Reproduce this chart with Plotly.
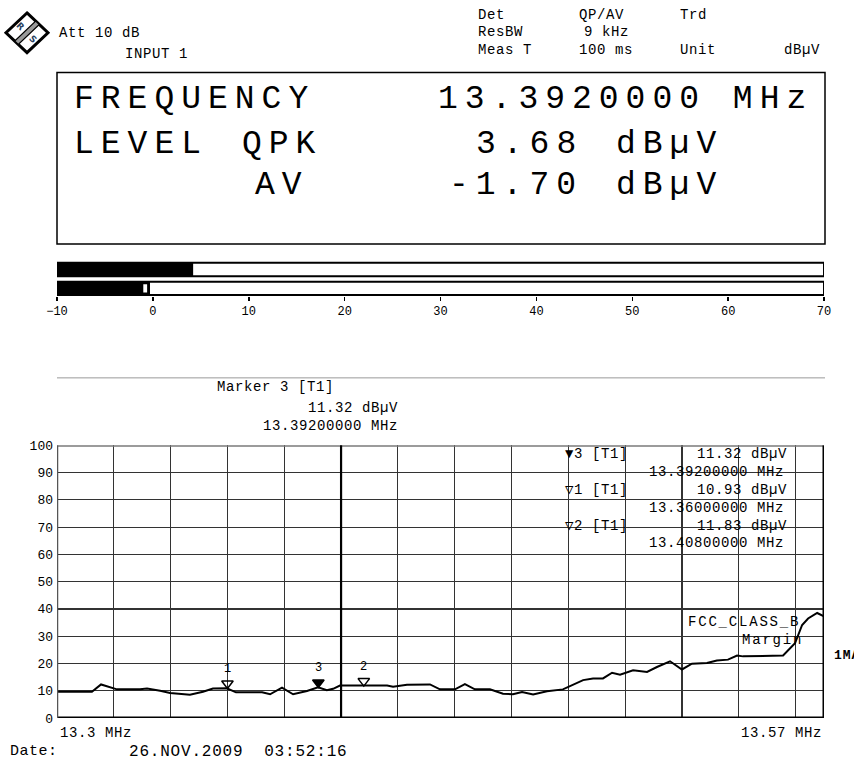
import plotly.graph_objects as go

# ---------------- data ----------------
freq_mhz = [13.3000, 13.3123, 13.3155, 13.3211, 13.3292, 13.3317, 13.3363, 13.3398,
            13.3468, 13.3514, 13.3549, 13.3598, 13.3630, 13.3722, 13.3750, 13.3792,
            13.3831, 13.3880, 13.3919, 13.3950, 13.3972, 13.3996, 13.4162, 13.4183,
            13.4232, 13.4313, 13.4348, 13.4401, 13.4436, 13.4471, 13.4524, 13.4570,
            13.4605, 13.4637, 13.4676, 13.4725, 13.4781, 13.4806, 13.4852, 13.4887,
            13.4922, 13.4954, 13.4982, 13.5028, 13.5077, 13.5112, 13.5158, 13.5200,
            13.5235, 13.5288, 13.5323, 13.5362, 13.5394, 13.5415, 13.5556, 13.5598,
            13.5623, 13.5644, 13.5676, 13.5700]
level_dbuv = [9.6, 9.6, 12.3, 10.5, 10.5, 10.8, 10.0, 9.2,
              8.5, 9.6, 10.8, 10.9, 9.4, 9.4, 8.7, 11.1,
              8.7, 9.9, 11.3, 10.2, 10.7, 11.9, 11.9, 11.5,
              12.2, 12.3, 10.5, 10.5, 12.4, 10.5, 10.5, 8.9,
              8.7, 9.5, 8.6, 9.8, 10.5, 11.7, 13.9, 14.5,
              14.5, 16.6, 15.9, 17.5, 16.9, 18.7, 20.8, 17.8,
              19.9, 20.2, 21.1, 21.4, 22.9, 22.6, 22.9, 27.4,
              34.1, 36.5, 38.5, 37.3]

marker_ids = ["1", "2", "3"]
marker_freq = [13.360, 13.408, 13.392]
marker_level = [10.93, 11.83, 11.32]
marker_filled = [False, False, True]
table_order = [2, 0, 1]          # marker 3 (active) first, then 1, 2

meter_names = ["QPK", "AV"]
meter_values = [4.2, -0.3]       # bar lengths as drawn on the -10..70 scale
meter_readout = [3.68, -1.70]
av_peak_tick = -1.0
meter_ticks = [-10, 0, 10, 20, 30, 40, 50, 60, 70]

y_ticks = [0, 10, 20, 30, 40, 50, 60, 70, 80, 90, 100]
f_start, f_stop = 13.3, 13.57
f_grid_step = 0.02
display_line_f = 13.40

# ---------------- geometry helpers ----------------
W, H = 854, 765
ML, MR, MT, MB = 57, 30, 0, 47
PW, PH = W - ML - MR, H - MT - MB


def X(px):
    return (px - ML) / PW


def Y(py):
    return (H - MB - py) / PH


MONO = "Liberation Mono, Courier New, monospace"


def txt(s, px, py, size=14, anchor="left", bold=False, color="black", angle=0, ls=0.6):
    if ls:
        s = f'<span style="letter-spacing:{ls}px">' + s + "</span>"
    if bold:
        s = "<b>" + s + "</b>"
    return dict(text=s, xref="paper", yref="paper", x=X(px), y=Y(py),
                xanchor=anchor, yanchor="middle", showarrow=False,
                textangle=angle, font=dict(family=MONO, size=size, color=color))


def big(s, px, py, anchor="left"):
    return txt(s, px, py, size=33, anchor=anchor, ls=7)


fig = go.Figure()

# main spectrum trace
fig.add_trace(go.Scatter(x=freq_mhz, y=level_dbuv, mode="lines",
                         line=dict(color="black", width=2), hoverinfo="skip",
                         showlegend=False, xaxis="x", yaxis="y"))

# marker triangles (tip just touching the trace)
fig.add_trace(go.Scatter(
    x=marker_freq, y=[v + 1.7 for v in marker_level], mode="markers",
    marker=dict(symbol=["triangle-down" if f else "triangle-down-open" for f in marker_filled],
                size=10, color="black", line=dict(color="black", width=1.5)),
    hoverinfo="skip", showlegend=False, xaxis="x", yaxis="y"))

# level meter: frames, fills, peak tick
fig.add_trace(go.Bar(y=meter_names, x=[80, 80], base=-10, orientation="h",
                     marker=dict(color="white", line=dict(color="black", width=2)),
                     hoverinfo="skip", showlegend=False, xaxis="x2", yaxis="y2"))
fig.add_trace(go.Bar(y=meter_names, x=[v + 10 for v in meter_values], base=-10,
                     orientation="h", marker=dict(color="black", line=dict(width=0)),
                     hoverinfo="skip", showlegend=False, xaxis="x2", yaxis="y2"))
fig.add_trace(go.Bar(y=["AV"], x=[0.4], base=av_peak_tick, orientation="h",
                     marker=dict(color="white", line=dict(width=0)), width=0.45,
                     hoverinfo="skip", showlegend=False, xaxis="x2", yaxis="y2"))

shapes = []
# plot frame
shapes.append(dict(type="line", xref="x", yref="y", x0=f_start, x1=f_stop, y0=100, y1=100,
                   line=dict(color="#7a7a7a", width=3)))
shapes.append(dict(type="line", xref="x", yref="y", x0=f_start, x1=f_stop, y0=0, y1=0,
                   line=dict(color="black", width=3)))
shapes.append(dict(type="line", xref="x", yref="y", x0=f_start, x1=f_start, y0=0, y1=100,
                   line=dict(color="#555555", width=2.5)))
shapes.append(dict(type="line", xref="x", yref="y", x0=f_stop, x1=f_stop, y0=0, y1=100,
                   line=dict(color="black", width=3)))
shapes.append(dict(type="line", xref="x", yref="y", x0=display_line_f, x1=display_line_f,
                   y0=0, y1=100, line=dict(color="black", width=2.2)))
# readout box and separator
shapes.append(dict(type="rect", xref="paper", yref="paper", x0=X(57), x1=X(825),
                   y0=Y(240), y1=Y(67), line=dict(color="black", width=1.5)))
shapes.append(dict(type="line", xref="paper", yref="paper", x0=X(57), x1=X(825),
                   y0=Y(375), y1=Y(375), line=dict(color="#9a9a9a", width=1)))


# R&S logo
def pth(pts):
    return "M " + " L ".join(f"{X(a):.5f},{Y(b):.5f}" for a, b in pts) + " Z"


shapes.append(dict(type="path", xref="paper", yref="paper",
                   path=pth([(27, 7), (48, 27), (27, 47), (6, 27)]),
                   line=dict(color="black", width=3), fillcolor="white"))
shapes.append(dict(type="path", xref="paper", yref="paper",
                   path=pth([(35.7, 15.3), (39.3, 18.7), (18.3, 38.7), (14.7, 35.3)]),
                   line=dict(color="black", width=1.2), fillcolor="#9a9a9a"))

ann = []
ann.append(dict(text="<b>R</b>", xref="paper", yref="paper", x=X(20), y=Y(20),
                xanchor="center", yanchor="middle",
                showarrow=False, textangle=45, font=dict(family="DejaVu Sans", size=9)))
ann.append(dict(text="<b>S</b>", xref="paper", yref="paper", x=X(33), y=Y(33),
                xanchor="center", yanchor="middle",
                showarrow=False, textangle=45, font=dict(family="DejaVu Sans", size=9)))

# header
ann += [txt("Att 10 dB", 57, 27), txt("INPUT 1", 123, 48),
        txt("Det", 476, 9), txt("QP/AV", 577, 9), txt("Trd", 678, 9),
        txt("ResBW", 476, 26), txt("9 kHz", 582, 26),
        txt("Meas T", 476, 44), txt("100 ms", 577, 44), txt("Unit", 678, 44),
        txt("dBµV", 822, 44, anchor="right")]

# big readout
mk3 = 2
ann += [big("FREQUENCY", 72, 94),
        big(f"{marker_freq[mk3]:.7f} MHz", 815, 94, anchor="right"),
        big("LEVEL", 72, 140), big(meter_names[0], 240, 140),
        big(f"{meter_readout[0]:.2f}", 585, 140, anchor="right"),
        big("dBµV", 614, 140),
        big(meter_names[1], 253, 181),
        big(f"{meter_readout[1]:.2f}", 585, 181, anchor="right"),
        big("dBµV", 614, 181)]

# active marker header
ann += [txt("Marker 3 [T1]", 215, 384),
        txt(f"{marker_level[mk3]:.2f} dBµV", 400, 405, anchor="right"),
        txt(f"{marker_freq[mk3]:.8f} MHz", 400, 424, anchor="right")]

# marker table inside the diagram
row_y = [452, 488, 524]
for r, idx in enumerate(table_order):
    sym = "▼" if marker_filled[idx] else "▽"
    ann.append(txt(f"{sym}{marker_ids[idx]} [T1]", 563, row_y[r]))
    ann.append(txt(f"{marker_level[idx]:.2f} dBµV", 789, row_y[r], anchor="right"))
    ann.append(txt(f"{marker_freq[idx]:.8f} MHz", 786, row_y[r] + 18, anchor="right"))

# marker numbers above triangles
for i in range(len(marker_ids)):
    ann.append(dict(text=marker_ids[i], x=marker_freq[i], y=marker_level[i], xref="x", yref="y",
                    yshift=19, showarrow=False, font=dict(family=MONO, size=12, color="black")))

# limit line label, trace label
ann += [txt("FCC_CLASS_B", 686, 621, size=14, ls=1.8), txt("Margin", 740, 639, size=14, ls=1.8),
        txt("1MA", 832, 655, size=13, bold=True, ls=1)]

# frequency labels & date
ann += [txt(f"{f_start} MHz", 58, 733), txt(f"{f_stop} MHz", 824, 733, anchor="right"),
        txt("Date:", 8, 752, size=15, ls=0.5), txt("26.NOV.2009  03:52:16", 127, 752, size=16, ls=0.8)]

fig.update_layout(
    width=W, height=H, margin=dict(l=ML, r=MR, t=MT, b=MB, pad=0),
    paper_bgcolor="white", plot_bgcolor="white", showlegend=False,
    barmode="overlay", bargap=0.29,
    shapes=shapes, annotations=ann,
    xaxis=dict(domain=[0, 1], range=[f_start, f_stop], tick0=f_start, dtick=f_grid_step,
               showgrid=True, gridcolor="#333333", gridwidth=1.2, showticklabels=False,
               ticks="", zeroline=False, showline=False, anchor="y", fixedrange=True),
    yaxis=dict(domain=[0, Y(443)], range=[0, 100], tickvals=y_ticks,
               showgrid=True, gridcolor="#333333", gridwidth=1.2, zeroline=False,
               showline=False, ticks="", ticklabelstandoff=3,
               tickfont=dict(family=MONO, size=13, color="black"), anchor="x"),
    xaxis2=dict(domain=[0, 1], range=[-10, 70], tickvals=meter_ticks, ticks="outside",
                ticklen=4, tickwidth=1.5, tickcolor="black", showgrid=False,
                zeroline=False, showline=False, anchor="free", position=Y(292),
                ticklabelstandoff=0,
                tickfont=dict(family=MONO, size=12, color="black")),
    yaxis2=dict(domain=[Y(294.25), Y(256.25)], categoryorder="array",
                categoryarray=["AV", "QPK"], showticklabels=False, showgrid=False,
                zeroline=False, showline=False, ticks="", anchor="x2"),
)

fig.write_html("out.html", config={"displayModeBar": False, "staticPlot": True},
               post_script="document.body.style.margin='0';document.body.style.padding='0';")
